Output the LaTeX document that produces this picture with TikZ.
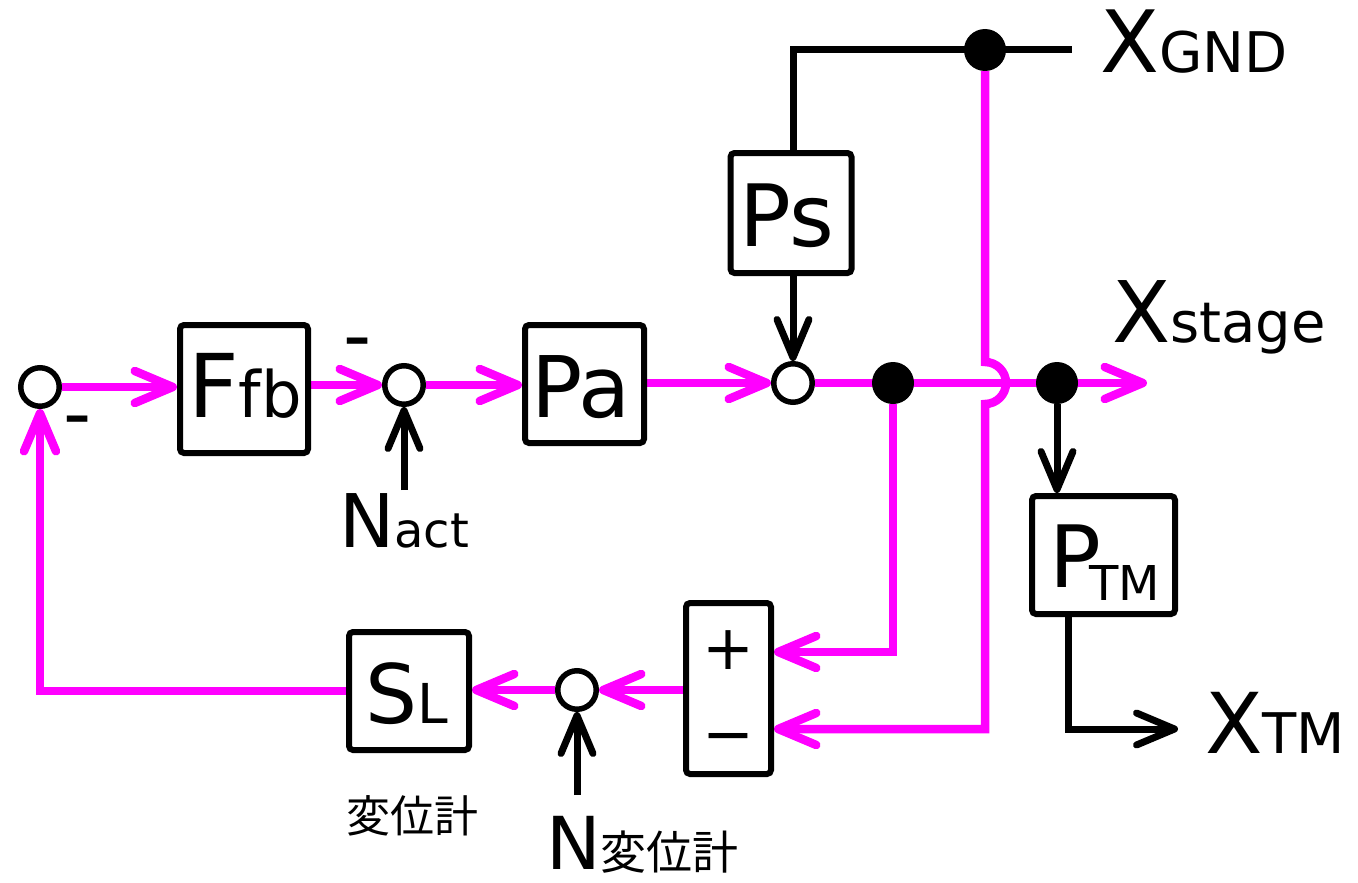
\documentclass[tikz,border=0pt]{standalone}
\usepackage{fontspec}
\setmainfont{DejaVu Sans}
\newfontfamily\jp{Noto Sans CJK JP}
\usetikzlibrary{arrows.meta,backgrounds}
\definecolor{mag}{HTML}{FF00FF}
\newcommand\fs[1]{\fontsize{#1}{#1}\selectfont}
\begin{document}
\begin{tikzpicture}[x=1pt,y=-1pt,
 blk/.style={draw=black,line width=6pt,rounded corners=4pt,inner sep=0pt},
 sumc/.style={circle,draw=black,line width=5.5pt,fill=white,minimum size=38.5pt,inner sep=0pt},
 dotc/.style={circle,fill=black,minimum size=42pt,inner sep=0pt},
 mline/.style={draw=mag,line width=8.5pt},
 bline/.style={draw=black,line width=7pt},
 tip/.style={-{Straight Barb[length=38pt,width=32pt,round]}},
 lbl/.style={inner sep=0pt,anchor=base west},
 ctr/.style={inner sep=0pt,anchor=base}
]
\useasboundingbox (0,0) rectangle (1358,883);
% blocks
\node[blk,minimum width=128pt,minimum height=128pt] (ffb) at (244,389) {};
\node[blk,minimum width=119pt,minimum height=118pt] (pa) at (584.5,384) {};
\node[blk,minimum width=121pt,minimum height=120pt] (ps) at (791,213) {};
\node[blk,minimum width=143pt,minimum height=118pt] (ptm) at (1103.5,555) {};
\node[blk,minimum width=120pt,minimum height=118pt] (sl) at (409,691) {};
\node[blk,minimum width=85pt,minimum height=171pt] (pm) at (728.5,688.5) {};
% summing points
\node[sumc] (s1) at (40,387) {};
\node[sumc] (s2) at (404,385) {};
\node[sumc] (s3) at (793,383) {};
\node[sumc] (s4) at (577,690) {};
% branch dots
\node[dotc] (d1) at (893,383) {};
\node[dotc] (d2) at (1057,383) {};
\node[dotc] (d3) at (985,50) {};
% free ends
\coordinate (xg) at (1072,50);
\coordinate (xs) at (1147,383);
\coordinate (na) at (404,490);
\coordinate (nd) at (577,795);
\coordinate (c1) at (1068,729);
\coordinate (xt) at (1178,729);
% labels
\node[ctr] (tffb) at (245,417) {\fs{88}F\fs{64}fb};
\node[ctr] (tpa) at (581,417) {\fs{85}Pa};
\node[ctr] (tps) at (787,246) {\fs{86}Ps};
\node[ctr] (tsl) at (407,723) {\fs{82}S\fs{55}L};
\node[lbl] (tptm) at (1049,587) {\fs{86}P\kern-12pt\raisebox{-13pt}{\fs{48}TM}};
\node[lbl] (txg) at (1100,73) {\fs{86}X\fs{56}GND};
\node[lbl] (txs) at (1112,342) {\fs{85}X\fs{56}stage};
\node[lbl] (txt) at (1205,753) {\fs{84}X\fs{56}TM};
\node[lbl] (tna) at (339,547) {\fs{74}N\fs{48}act};
\node[lbl] (tnd) at (546,869) {\fs{73}N{\jp\fs{46}変位計}};
\node[lbl] (then) at (346,832) {\jp\fs{44}変位計};
\node[ctr] (m1) at (78,440) {\fs{78}-};
\node[ctr] (m2) at (358,362) {\fs{78}-};
\node[inner sep=0pt] (plus) at (728,650) {\fs{62}+};
\node[inner sep=0pt] (minus) at (728,744) {\fs{62}−};
% connectors
\begin{scope}[on background layer]
\draw[mline,tip] (s1.east) -- (s1.east -| ffb.west);
\draw[mline,tip] (ffb.east |- s2.west) -- (s2.west);
\draw[mline,tip] (s2.east) -- (s2.east -| pa.west);
\draw[mline,tip] (pa.east |- s3.west) -- (s3.west);
\draw[bline,tip] (ps.south -| s3) -- (s3.north);
\draw[bline] (ps.north -| s3) -- (s3 |- d3) -- (xg);
\draw[mline,tip] (s3.east) -- (xs);
\draw[mline,tip] (d3) -- (985,362) arc[start angle=90,end angle=-90,radius=21pt] -- (985,729) -- (pm.east |- 0,729);
\draw[mline,tip] (d1) -- (d1 |- 0,652) -- (pm.east |- 0,652);
\draw[mline,tip] (pm.west |- s4) -- (s4.east);
\draw[mline,tip] (s4.west) -- (s4.west -| sl.east);
\draw[mline,tip] (sl.west) -- (s1 |- sl.west) -- (s1.south);
\draw[bline,tip] (na) -- (s2.south);
\draw[bline,tip] (nd) -- (s4.south);
\draw[bline,tip] (d2) -- (d2 |- ptm.north);
\draw[bline,tip] (c1 |- ptm.south) -- (c1) -- (xt);
\end{scope}
\end{tikzpicture}
\end{document}
